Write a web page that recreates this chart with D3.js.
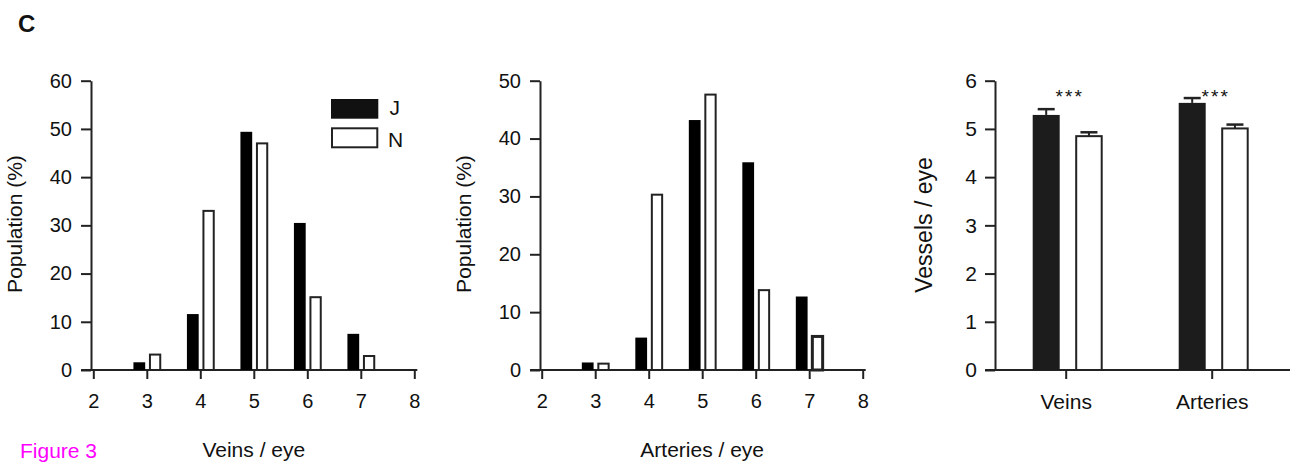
<!DOCTYPE html>
<html>
<head>
<meta charset="utf-8">
<script src="https://cdn.jsdelivr.net/npm/d3@7"></script>
<style>
  html, body { margin: 0; padding: 0; background: #fff; }
  svg { display: block; }
  text { font-family: "Liberation Sans", Arial, Helvetica, sans-serif; fill: #111; }
</style>
</head>
<body>
<svg id="chart" width="1297" height="467"></svg>
<script>
// ---------- data ----------
const counts = [3, 4, 5, 6, 7];
const histXTicks = [2, 3, 4, 5, 6, 7, 8];
const veinsJ = [1.6, 11.6, 49.4, 30.5, 7.5];
const veinsN = [3.2, 33.0, 47.0, 15.1, 2.9];
const veinsYTicks = [0, 10, 20, 30, 40, 50, 60];
const arteriesJ = [1.3, 5.6, 43.2, 35.9, 12.7];
const arteriesN = [1.1, 30.3, 47.6, 13.8, 5.8];
const arteriesYTicks = [0, 10, 20, 30, 40, 50];
const groups = ["Veins", "Arteries"];
const meanJ = [5.29, 5.54];
const semJ = [0.12, 0.10];
const meanN = [4.85, 5.01];
const semN = [0.08, 0.08];
const vesselYTicks = [0, 1, 2, 3, 4, 5, 6];
const significance = ["***", "***"];
const seriesNames = ["J", "N"];

// ---------- drawing ----------
const svg = d3.select("#chart");
const AX = "#222";
const Y0 = 370, YTOP = 80.7;

svg.append("text").attr("x", 18).attr("y", 31.5)
  .style("font-size", "24px").style("font-weight", "bold").text("C");
svg.append("text").attr("x", 20).attr("y", 457.5)
  .style("font-size", "21px").style("fill", "#ff00ff").text("Figure 3");

function styleAxis(g, fs) {
  g.selectAll("path.domain").attr("stroke", AX).attr("stroke-width", 2);
  g.selectAll(".tick line").attr("stroke", AX).attr("stroke-width", 2);
  g.selectAll(".tick text").style("font-size", fs).style("font-family", "'Liberation Sans', Arial, sans-serif").attr("fill", "#111");
}

function histogram(opt) {
  const x = d3.scaleLinear().domain([2, 8]).range([opt.x0, opt.x0 + 321]);
  const y = d3.scaleLinear().domain([0, d3.max(opt.yTicks)]).range([Y0, YTOP]);
  const g = svg.append("g");

  // baseline
  g.append("line").attr("x1", opt.axisX - 10).attr("x2", x(8) + 3)
    .attr("y1", Y0).attr("y2", Y0).attr("stroke", AX).attr("stroke-width", 2);

  const xa = g.append("g").attr("transform", `translate(0,${Y0})`)
    .call(d3.axisBottom(x).tickValues(histXTicks).tickFormat(d3.format("d"))
      .tickSize(9).tickPadding(15).tickSizeOuter(0));
  xa.select("path.domain").remove();
  styleAxis(xa, "20px");

  const ya = g.append("g").attr("transform", `translate(${opt.axisX},0)`)
    .call(d3.axisLeft(y).tickValues(opt.yTicks).tickFormat(d3.format("d"))
      .tickSize(10).tickPadding(9).tickSizeOuter(0));
  styleAxis(ya, "20px");

  // J bars
  g.selectAll("rect.j").data(counts).join("rect").attr("class", "j")
    .attr("x", d => x(d - 0.25)).attr("width", d => x(d - 0.03) - x(d - 0.25))
    .attr("y", (d, i) => y(opt.J[i])).attr("height", (d, i) => Y0 - y(opt.J[i]))
    .attr("fill", "#000");
  // N bars
  g.selectAll("rect.n").data(counts).join("rect").attr("class", "n")
    .attr("x", d => x(d + 0.04) + 1).attr("width", d => x(d + 0.27) - x(d + 0.04) - 2)
    .attr("y", (d, i) => y(opt.N[i])).attr("height", (d, i) => Y0 - y(opt.N[i]))
    .attr("fill", "#fff").attr("stroke", AX)
    .attr("stroke-width", (d, i) => (opt.thickLast && i === counts.length - 1) ? 3 : 2);

  // titles
  g.append("text").attr("x", x(5)).attr("y", 457).attr("text-anchor", "middle")
    .style("font-size", "21px").text(opt.xTitle);
  g.append("text").attr("transform", `translate(${opt.yTitleX},224) rotate(-90)`)
    .attr("text-anchor", "middle").style("font-size", "21px").text("Population (%)");
  return { g, x, y };
}

const h1 = histogram({ x0: 93.3, axisX: 91, J: veinsJ, N: veinsN, yTicks: veinsYTicks,
  xTitle: "Veins / eye", yTitleX: 21.5 });
histogram({ x0: 541.7, axisX: 540, J: arteriesJ, N: arteriesN, yTicks: arteriesYTicks,
  xTitle: "Arteries / eye", yTitleX: 470.5, thickLast: true });

// legend (panel 1)
const lg = svg.append("g");
seriesNames.forEach((name, i) => {
  const top = i === 0 ? 99 : 128.3;
  if (i === 0) {
    lg.append("rect").attr("x", 331).attr("y", top).attr("width", 47.3).attr("height", 19.7).attr("fill", "#111");
  } else {
    lg.append("rect").attr("x", 332).attr("y", top).attr("width", 45.3).attr("height", 19).attr("fill", "#fff")
      .attr("stroke", AX).attr("stroke-width", 2);
  }
  lg.append("text").attr("x", i === 0 ? 389.5 : 388).attr("y", i === 0 ? 115 : 146.5)
    .style("font-size", "21px").text(name);
});

// ---------- panel 3: means ----------
const px = d3.scalePoint().domain(groups).range([1065.7, 1211.7]);
const py = d3.scaleLinear().domain([0, 6]).range([Y0, YTOP]);
const g3 = svg.append("g");
g3.append("line").attr("x1", 985).attr("x2", 1290).attr("y1", Y0).attr("y2", Y0)
  .attr("stroke", AX).attr("stroke-width", 2);
const xa3 = g3.append("g").attr("transform", `translate(0,${Y0})`)
  .call(d3.axisBottom(px).tickSize(9).tickPadding(15).tickSizeOuter(0));
xa3.select("path.domain").remove();
styleAxis(xa3, "21px");
const ya3 = g3.append("g").attr("transform", "translate(995,0)")
  .call(d3.axisLeft(py).tickValues(vesselYTicks).tickFormat(d3.format("d"))
    .tickSize(10).tickPadding(8).tickSizeOuter(0));
styleAxis(ya3, "21px");

const J_L = -33, J_R = -6, N_L = 9.5, N_R = 37;
// error bars (drawn first, bars over them)
function errBars(mean, sem, l, r) {
  groups.forEach((gname, i) => {
    const c = px(gname) + (l + r) / 2;
    g3.append("line").attr("x1", c).attr("x2", c).attr("y1", py(mean[i])).attr("y2", py(mean[i] + sem[i]))
      .attr("stroke", AX).attr("stroke-width", 2);
    g3.append("line").attr("x1", c - 8.5).attr("x2", c + 8.5).attr("y1", py(mean[i] + sem[i])).attr("y2", py(mean[i] + sem[i]))
      .attr("stroke", AX).attr("stroke-width", 2.5);
  });
}
errBars(meanJ, semJ, J_L, J_R);
errBars(meanN, semN, N_L, N_R);

g3.selectAll("rect.mj").data(groups).join("rect").attr("class", "mj")
  .attr("x", d => px(d) + J_L).attr("width", J_R - J_L)
  .attr("y", (d, i) => py(meanJ[i])).attr("height", (d, i) => Y0 - py(meanJ[i]))
  .attr("fill", "#1c1c1c");
g3.selectAll("rect.mn").data(groups).join("rect").attr("class", "mn")
  .attr("x", d => px(d) + N_L + 1).attr("width", N_R - N_L - 2)
  .attr("y", (d, i) => py(meanN[i])).attr("height", (d, i) => Y0 - py(meanN[i]))
  .attr("fill", "#fff").attr("stroke", AX).attr("stroke-width", 2);

g3.selectAll("text.sig").data(groups).join("text").attr("class", "sig")
  .attr("x", d => px(d) + 4).attr("y", 102.5).attr("text-anchor", "middle")
  .style("font-size", "19px").style("letter-spacing", "2px")
  .text((d, i) => significance[i]);

g3.append("text").attr("transform", "translate(931.5,225) rotate(-90)")
  .attr("text-anchor", "middle").style("font-size", "23px").text("Vessels / eye");
</script>
</body>
</html>
